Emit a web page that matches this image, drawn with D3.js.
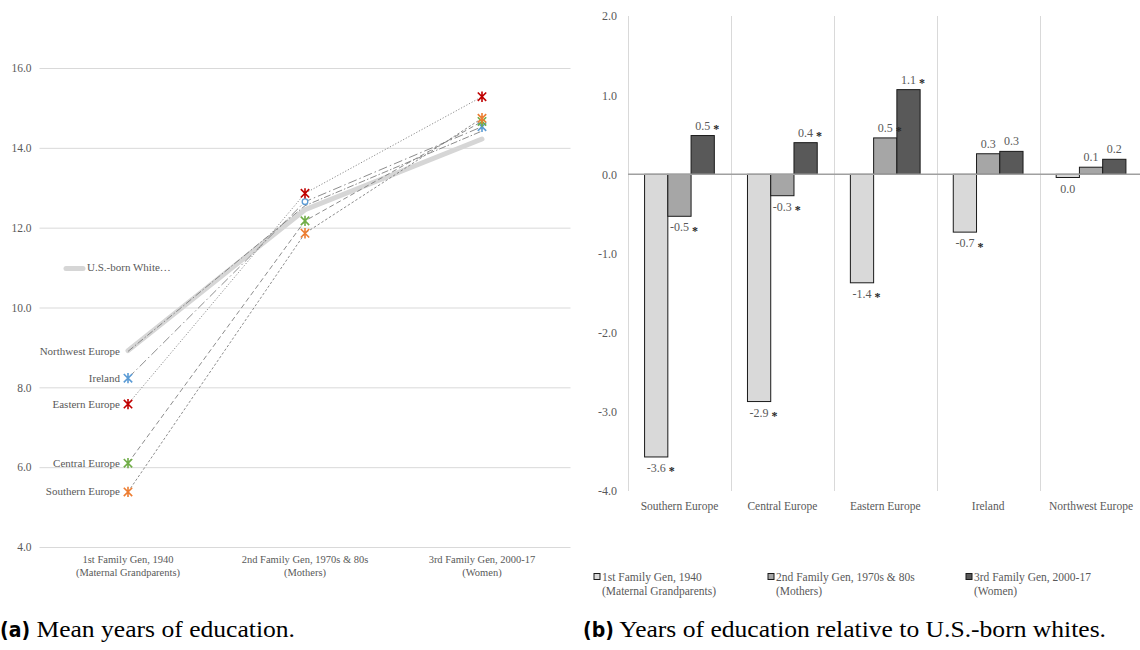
<!DOCTYPE html>
<html><head><meta charset="utf-8">
<script src="https://cdn.jsdelivr.net/npm/d3@7"></script>
<style>body{margin:0;background:#fff}svg{display:block}</style>
</head><body>
<svg id="c" width="1140" height="650"></svg>
<script>
// ---------- Data: left chart (mean years of education) ----------
const generations = [["1st Family Gen, 1940","(Maternal Grandparents)"],["2nd Family Gen, 1970s & 80s","(Mothers)"],["3rd Family Gen, 2000-17","(Women)"]];
const usWhiteName = "U.S.-born White\u2026";
const usWhite   = [8.92, 12.45, 14.22];
const seriesNames = ["Northwest Europe","Ireland","Eastern Europe","Central Europe","Southern Europe"];
const northwest = [8.90, 12.55, 14.42];
const ireland   = [8.23, 12.65, 14.53];
const eastern   = [7.58, 12.86, 15.28];
const central   = [6.10, 12.17, 14.66];
const southern  = [5.38, 11.86, 14.74];
const leftTicks = [4, 6, 8, 10, 12, 14, 16];

// ---------- Data: right chart (relative to U.S.-born whites) ----------
const regions = ["Southern Europe","Central Europe","Eastern Europe","Ireland","Northwest Europe"];
const genNames = [["1st Family Gen, 1940","(Maternal Grandparents)"],["2nd Family Gen, 1970s & 80s","(Mothers)"],["3rd Family Gen, 2000-17","(Women)"]];
const gen1Rel = [-3.57, -2.87, -1.37, -0.73, -0.04];
const gen2Rel = [-0.53, -0.27, 0.46, 0.26, 0.09];
const gen3Rel = [0.49, 0.40, 1.07, 0.29, 0.19];
const gen1Sig = [true, true, true, true, false];
const gen2Sig = [true, true, true, false, false];
const gen3Sig = [true, true, true, false, false];
const rightTicks = [-4, -3, -2, -1, 0, 1, 2];

const captionA = ["(a)", " Mean years of education."];
const captionB = ["(b)", " Years of education relative to U.S.-born whites."];

// ---------- Styles ----------
const SERIF = "'Liberation Serif','Times New Roman',serif";
const TXT = "#595959";
const svg = d3.select("#c");
const fmt = v => d3.format(".1f")(v).replace("\u2212", "-");

// ================= LEFT CHART =================
const xL = d3.scalePoint().domain([0,1,2]).range([128, 482]);
const yL = d3.scaleLinear().domain([4, 16]).range([547, 68]);
const L = svg.append("g");

const yAxisL = L.append("g").attr("transform","translate(39.5,0)")
  .call(d3.axisLeft(yL).tickValues(leftTicks).tickSize(-531).tickPadding(8).tickFormat(fmt));
yAxisL.select(".domain").remove();
yAxisL.selectAll(".tick line").attr("stroke","#d9d9d9");
yAxisL.selectAll(".tick text").attr("fill",TXT).style("font-family",SERIF).style("font-size","11.5px");

// x category labels
generations.forEach((g,i)=>{
  const t = L.append("text").attr("x", xL(i)).attr("text-anchor","middle")
    .attr("fill",TXT).style("font-family",SERIF).style("font-size","10.5px");
  t.append("tspan").attr("x", xL(i)).attr("y", 563).text(g[0]);
  t.append("tspan").attr("x", xL(i)).attr("y", 576).text(g[1]);
});

const line = d3.line().x((d,i)=>xL(i)).y(d=>yL(d));

// U.S.-born white thick line
L.append("path").datum(usWhite).attr("d", line).attr("fill","none")
  .attr("stroke","#d6d6d6").attr("stroke-width",5).attr("stroke-linecap","round");

const seriesData = [northwest, ireland, eastern, central, southern];
const seriesDash = ["7,2,1.5,2", "9,3,1.5,3", "1.2,1.8", "5,3", "2.5,2"];
const seriesColor = [null, "#5b9bd5", "#c00000", "#70ad47", "#ed7d31"];
const irelandMarkers = ["star","circle","star"];

seriesData.forEach((s,k)=>{
  L.append("path").datum(s).attr("d", line).attr("fill","none")
    .attr("stroke","#7f7f7f").attr("stroke-width",0.9).attr("stroke-dasharray", seriesDash[k]);
});

// series labels at first point
seriesData.forEach((s,k)=>{
  L.append("text").attr("x", xL(0) - 8).attr("y", yL(s[0]) + 1).attr("text-anchor","end")
    .attr("dominant-baseline","middle").attr("fill",TXT)
    .style("font-family",SERIF).style("font-size","11px").text(seriesNames[k]);
});

// markers
const starPath = r => `M${-r},${-r}L${r},${r}M${-r},${r}L${r},${-r}M0,${-r-1}L0,${r+1}`;
const drawOrder = [1, 3, 4, 2];
drawOrder.forEach(k=>{
  const s = seriesData[k];
  s.forEach((v,i)=>{
    const shape = k === 1 ? irelandMarkers[i] : "star";
    if (shape === "circle") {
      L.append("circle").attr("cx", xL(i)).attr("cy", yL(v)).attr("r", 2.8)
        .attr("fill","#fff").attr("stroke", seriesColor[k]).attr("stroke-width",1.3);
    } else {
      L.append("path").attr("transform",`translate(${xL(i)},${yL(v)})`).attr("d", starPath(4.2))
        .attr("fill","none").attr("stroke", seriesColor[k]).attr("stroke-width",1.6);
    }
  });
});

// legend for U.S.-born white
L.append("line").attr("x1",66).attr("x2",83).attr("y1",268.5).attr("y2",268.5)
  .attr("stroke","#d6d6d6").attr("stroke-width",5).attr("stroke-linecap","round");
L.append("text").attr("x",87).attr("y",268.5).attr("dominant-baseline","middle")
  .attr("fill",TXT).style("font-family",SERIF).style("font-size","11px").text(usWhiteName);

// ================= RIGHT CHART =================
const xR = d3.scaleBand().domain(regions).range([628, 1142.5]);
const xG = d3.scaleBand().domain([0,1,2]).range([0, xR.bandwidth()]).paddingInner(0).paddingOuter(0.713);
const yR = d3.scaleLinear().domain([-4, 2]).range([491, 16]);
const R = svg.append("g");

// vertical dividers
regions.forEach(r=>{
  R.append("line").attr("x1", Math.round(xR(r))+0.5).attr("x2", Math.round(xR(r))+0.5)
    .attr("y1", yR(2)).attr("y2", yR(-4)).attr("stroke","#d9d9d9").attr("stroke-width",1);
});

const yAxisR = R.append("g").attr("transform","translate(628,0)")
  .call(d3.axisLeft(yR).tickValues(rightTicks).tickSize(0).tickPadding(11).tickFormat(fmt));
yAxisR.select(".domain").remove();
yAxisR.selectAll(".tick text").attr("fill",TXT).style("font-family",SERIF).style("font-size","12px");

// category labels
regions.forEach(r=>{
  R.append("text").attr("x", xR(r) + xR.bandwidth()/2).attr("y", 510).attr("text-anchor","middle")
    .attr("fill",TXT).style("font-family",SERIF).style("font-size","11.5px").text(r);
});

const barVals = [gen1Rel, gen2Rel, gen3Rel];
const barSig = [gen1Sig, gen2Sig, gen3Sig];
const barFill = ["#d9d9d9", "#a6a6a6", "#595959"];

barVals.forEach((vals,g)=>{
  vals.forEach((v,i)=>{
    const x0 = xR(regions[i]) + xG(g);
    R.append("rect").attr("x", x0).attr("width", xG.bandwidth())
      .attr("y", yR(Math.max(0,v))).attr("height", Math.abs(yR(v) - yR(0)))
      .attr("fill", barFill[g]).attr("stroke","#1a1a1a").attr("stroke-width",1);
  });
});

// zero line
R.append("line").attr("x1",628).attr("x2",1140).attr("y1",yR(0)).attr("y2",yR(0))
  .attr("stroke","#a0a0a0").attr("stroke-width",1.5);

// value labels
barVals.forEach((vals,g)=>{
  vals.forEach((v,i)=>{
    const cx = xR(regions[i]) + xG(g) + xG.bandwidth()/2;
    const yy = v >= 0 ? yR(v) - 6 : yR(v) + 15;
    const t = R.append("text").attr("x", cx).attr("y", yy).attr("text-anchor","middle")
      .attr("fill",TXT).style("font-family",SERIF).style("font-size","12px").text(fmt(v));
    if (barSig[g][i]) {
      const w = t.node().getComputedTextLength();
      R.append("text").attr("x", cx + w/2 + 3).attr("y", yy + 3.5)
        .attr("fill","#262626").style("font-family",SERIF).style("font-size","12px")
        .style("font-weight","bold").text("*");
    }
  });
});

// legend
const legX = [594, 768, 966];
genNames.forEach((n,g)=>{
  R.append("rect").attr("x", legX[g]).attr("y", 573.5).attr("width",6).attr("height",6)
    .attr("fill", barFill[g]).attr("stroke","#1a1a1a").attr("stroke-width",1);
  const t = R.append("text").attr("fill",TXT).style("font-family",SERIF).style("font-size","11.5px");
  t.append("tspan").attr("x", legX[g] + 8).attr("y", 580.5).text(n[0]);
  t.append("tspan").attr("x", legX[g] + 8).attr("y", 594.5).text(n[1]);
});

// ================= CAPTIONS =================
function caption(parts, x, endX) {
  const t = svg.append("text").attr("x", x).attr("y", 637).attr("fill","#000");
  const b = t.append("tspan").style("font-family","'Liberation Sans Narrow','DejaVu Sans Condensed',sans-serif")
    .style("font-weight","bold").style("font-size","21px").text(parts[0]);
  const bw = b.node().getComputedTextLength();
  t.append("tspan").style("font-family",SERIF).style("font-size","23px")
    .attr("textLength", endX - x - bw).attr("lengthAdjust","spacingAndGlyphs").text(parts[1]);
}
caption(captionA, 0, 295);
caption(captionB, 583, 1106);
</script>
</body></html>
